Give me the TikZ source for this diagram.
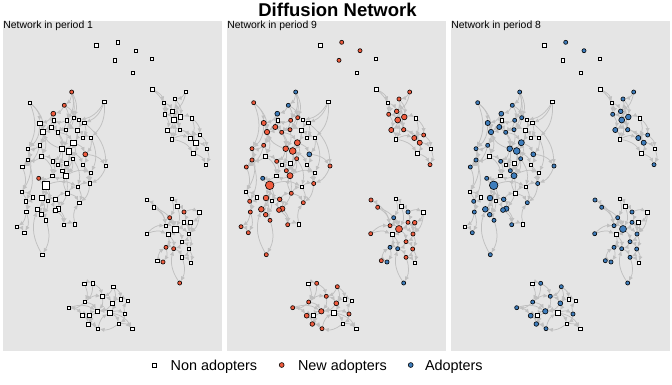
\documentclass[tikz,border=0pt]{standalone}
\usepackage{fontspec}
\setmainfont{Liberation Sans}
\usetikzlibrary{arrows.meta}
\pgfdeclarelayer{panel}
\pgfdeclarelayer{edges}
\pgfsetlayers{panel,edges,main}
\definecolor{panelgray}{RGB}{229,229,229}
\definecolor{edgegray}{RGB}{192,192,192}
\definecolor{newred}{RGB}{240,92,62}
\definecolor{adblue}{RGB}{62,125,188}
\tikzset{
  base/.style={inner sep=0pt, outer sep=0pt, line width=0.6pt, draw=black},
  nonad/.style={base, rectangle, fill=white, minimum size={1.08*#1*1pt}},
  newad/.style={base, circle, fill=newred, minimum size={1.28*#1*1pt}},
  adopt/.style={base, circle, fill=adblue, minimum size={1.28*#1*1pt}},
  A1/.style={newad=#1}, A2/.style={adopt=#1}, A3/.style={adopt=#1},
  B1/.style={nonad=#1}, B2/.style={newad=#1}, B3/.style={adopt=#1},
  C1/.style={nonad=#1}, C2/.style={newad=#1}, C3/.style={nonad=#1},
  D1/.style={nonad=#1}, D2/.style={nonad=#1}, D3/.style={nonad=#1},
  netlink/.style={draw=edgegray, line width=0.75pt, -{Latex[length=4.8pt,width=4.2pt]}, bend left=24},
  txt/.style={inner sep=0pt, outer sep=0pt, text=black},
  panellab/.style={txt, anchor=base west, font=\fontsize{10.4}{12}\selectfont},
  legtxt/.style={txt, anchor=base west, font=\fontsize{14.4}{16}\selectfont},
}
\def\nodelist{t1/96.3/45.3/3.2/D, t2/117.7/42.3/3.2/B, t3/136/50.7/3.2/B, t4/115/60.3/3.2/C, t5/151.7/58.7/3.2/D, t6/132.7/72.7/3.2/D,
r1/152.3/89.3/3.2/D, r2/185.7/92/3.2/B, r3/175/99/3.2/B, r4/164/103/3.2/D, r5/172.7/111.3/3.6/B, r6/164.7/114.3/3.2/B, r7/173.7/120/4.6/B, r8/180.3/117/4.4/B, r9/192/118.3/3.2/D, r10/167.3/130/4/B, r11/179.7/129.7/3.4/B, r12/171.7/139.3/3.4/D, r13/190.3/138/4/B, r14/199.7/135/3.2/B, r15/195.7/142.7/4/B, r16/206.7/148.7/3.2/D, r17/193.3/153.3/3.2/D, r18/206/164.7/3.2/B,
L1/71.7/92/3.2/A, L2/29.7/102.7/3.2/B, L3/104.3/101.7/3.2/D, L4/64.3/105.3/3.2/A, L5/53.3/113.7/3.8/A, L6/73.7/117.7/3.2/B, L7/79/120/3.2/D, L8/66.7/120.3/3.2/B, L9/54/120.3/3.2/D, L10/39.7/123/4/B, L11/84.3/123/3.2/D, L12/51.3/127/4/B, L13/43/132/4.2/B, L14/57.7/132.3/3.2/B, L15/66/129.7/3.2/B, L16/77/130.3/4/D, L17/82.7/137.7/3.2/D, L18/91/137.7/3.2/D, L19/73.3/142.7/4.7/B, L20/39.7/145.3/3.2/B, L21/28/148.7/3.2/B, L22/61.7/148.7/4.4/B, L23/68.7/151/5.3/B, L24/41.7/156/3.8/D, L25/85.3/154.3/3.8/A, L26/72.7/158.7/3.2/B, L27/28/160/3.2/B, L28/52.7/161.3/3.2/B, L29/66.3/163.3/4/D, L30/58/164.7/3.2/D, L31/83/165/3.2/D, L32/106/166/3.2/B, L33/22.3/167/3.2/B, L34/62.3/170.7/3.2/B, L35/91/172.7/3.2/D, L36/66/175.7/4.7/B, L37/52.3/176/3.2/D, L38/38.7/178.3/3.2/A, L39/45.7/185.3/6.7/B, L40/77.7/186.7/3.2/D, L41/89.7/183.5/3.2/B, L42/21.7/192/3.2/D, L43/32.7/197.3/3.2/D, L44/42/198/4.4/B, L45/47.7/200.7/3.2/D, L46/55.7/199.3/3.6/B, L47/67.3/193.3/3.2/C, L48/25.7/201.3/3.2/B, L49/79.3/202.7/3.2/B, L50/37.3/209.3/4.4/B, L51/58.3/208.7/4.2/B, L52/55/210/3.8/B, L53/26.3/212/3.2/B, L54/41.7/214.7/3.6/B, L55/46/220.3/3.2/B, L56/17/226.7/3.2/C, L57/24.3/232.7/3.2/B, L58/63.7/224.7/3.2/B, L59/75/224.3/3.2/D, L60/42.3/254.7/3.2/B,
R1/147/200/3.2/B, R2/171.7/198.7/3.2/D, R3/153.7/207.3/3.2/B, R4/177/206/3.8/D, R5/184/212/3.2/A, R6/199.3/212.3/3.2/D, R7/169.7/217.7/3.2/A, R8/184/222.3/3.2/B, R9/190.7/222.7/3.6/C, R10/166/225.7/3.2/B, R11/175/229/5.4/B, R12/189/234/3.2/B, R13/146.7/233.7/3.2/B, R14/168/234.7/3.8/D, R15/182/241.7/3.2/B, R16/166/247.3/3.2/A, R17/173.7/248.7/3.2/A, R18/188.7/249/3.2/B, R19/182/257.3/3.2/B, R20/157.3/260.7/3.2/B, R21/163/262/3.2/A, R22/190.7/262.7/3.2/D, R23/179.7/283/3.2/A,
B1/84.3/284/3.2/D, B2/92.7/283.3/3.2/B, B3/113.3/286.7/3.2/B, B4/102.3/296.3/3.2/B, B5/84.7/302/3.2/B, B6/112.3/303.3/3.8/B, B7/121/299.3/3.2/D, B8/127.7/300.7/3.2/D, B9/68.7/307.7/3.2/B, B10/97.3/311.3/4.2/B, B11/110/312.7/4.7/D, B12/82.7/315.7/3.8/B, B13/89.3/315.7/3.6/D, B14/125/314/3.2/B, B15/88.3/324/3.6/B, B16/118.7/323.7/3.2/D, B17/98/328.7/3.2/B, B18/132.3/329/3.2/D}
\def\edgelist{L1/L4, L4/L5, L1/L8, L4/L6, L2/L10, L3/L7, L3/L11, L5/L10, L5/L12, L6/L7, L8/L9, L9/L12, L10/L13, L12/L13, L12/L14, L14/L15, L15/L16, L16/L17, L17/L18, L16/L19, L19/L22, L22/L23, L23/L26, L19/L25, L25/L32, L25/L31, L20/L21, L21/L27, L20/L24, L24/L28, L28/L30, L30/L29, L29/L34, L34/L36, L36/L37, L37/L38, L38/L39, L39/L44, L39/L40, L40/L41, L36/L35, L35/L31, L27/L33, L33/L42, L42/L43, L43/L48, L44/L45, L45/L46, L46/L47, L47/L49, L44/L50, L50/L54, L54/L55, L55/L60, L51/L52, L52/L46, L51/L58, L58/L59, L59/L49, L53/L56, L56/L57, L48/L53, L22/L13, L23/L29, L13/L20, L10/L21, L12/L22, L14/L19, L7/L16, L11/L17, L19/L23, L26/L36, L29/L36, L22/L28, L39/L50, L36/L51, L40/L49, L41/L35, L53/L57, L24/L27, L6/L15, L8/L14, L18/L25, L23/L31, L47/L36, L2/L13, L9/L5, L1/L15, L26/L40, L21/L33,
L2/L21, L3/L18, L11/L32, L32/L41, L18/L35, L21/L42, L27/L48, L60/L50, L41/L49, L31/L41, L20/L33, L10/L20, L5/L13, L1/L6, L4/L8, L24/L37, L28/L37, L30/L34, L26/L34, L22/L30, L13/L24, L42/L53, L45/L54, L46/L51, L52/L58, L44/L54, L47/L40, L39/L45, L38/L44, L19/L26, L23/L34, L16/L23, L15/L22, L14/L22,
r1/r4, r1/r6, r2/r3, r3/r5, r4/r6, r5/r7, r6/r7, r7/r8, r8/r9, r7/r10, r10/r11, r11/r8, r10/r12, r11/r13, r13/r14, r13/r15, r15/r16, r15/r17, r17/r18, r12/r13, r9/r14, r5/r8, r6/r10, r3/r8,
r2/r5, r4/r5, r9/r13, r12/r17, r14/r16, r16/r18, r11/r15, r7/r12, r7/r11,
R1/R3, R3/R10, R2/R4, R4/R5, R5/R6, R5/R8, R6/R9, R7/R10, R7/R11, R8/R11, R9/R12, R10/R11, R11/R12, R11/R14, R13/R14, R14/R16, R11/R15, R15/R17, R16/R17, R17/R19, R15/R18, R18/R22, R19/R23, R20/R21, R16/R21, R12/R18, R4/R11, R2/R7,
R13/R10, R1/R10, R3/R11, R6/R12, R9/R8, R12/R15, R19/R22, R18/R19, R23/R17, R20/R16, R8/R12, R14/R17,
B1/B2, B2/B4, B3/B4, B3/B6, B4/B6, B6/B7, B7/B8, B5/B4, B5/B9, B5/B10, B6/B11, B10/B11, B10/B12, B12/B13, B13/B15, B15/B17, B11/B14, B14/B8, B11/B16, B16/B18, B9/B12, B17/B11, B2/B5,
B1/B5, B3/B7, B9/B10, B12/B15, B13/B10, B11/B18, B14/B16, B17/B13, B4/B10, B6/B10, B16/B17}
\begin{document}
\begin{tikzpicture}[x=1pt,y=-1pt]
\useasboundingbox (0,0) rectangle (672,384);
\begin{pgfonlayer}{panel}
  \fill[white] (0,0) rectangle (672,384);
\end{pgfonlayer}
\node[txt, anchor=base, font=\fontsize{18.5}{20}\selectfont\bfseries] (title) at (337.5,16) {Diffusion Network};
\foreach \p/\lab in {1/1,2/9,3/8}{
  \pgfmathsetmacro\sh{224*(\p-1)}
  \begin{pgfonlayer}{panel}
    \fill[panelgray] ({2.7+\sh},20.7) rectangle ({222.3+\sh},350.7);
  \end{pgfonlayer}
  \node[panellab] (lab\p) at ({3.4+\sh},28.4) {Network in period \lab};
  \foreach \id/\x/\y/\s/\c in \nodelist {
    \node[\c\p=\s] (p\p\id) at ({\x+\sh},\y) {};
  }
  \begin{pgfonlayer}{edges}
    \foreach \a/\b in \edgelist {
      \draw[netlink] (p\p\a) to (p\p\b);
    }
  \end{pgfonlayer}
}
\node[nonad=4] (leg1) at (154,365) {};
\node[legtxt] (legt1) at (170.7,370.5) {Non adopters};
\node[newad=3.8] (leg2) at (281.7,365) {};
\node[legtxt] (legt2) at (298,370.5) {New adopters};
\node[adopt=3.8] (leg3) at (410.7,365) {};
\node[legtxt] (legt3) at (425,370.5) {Adopters};
\end{tikzpicture}
\end{document}
